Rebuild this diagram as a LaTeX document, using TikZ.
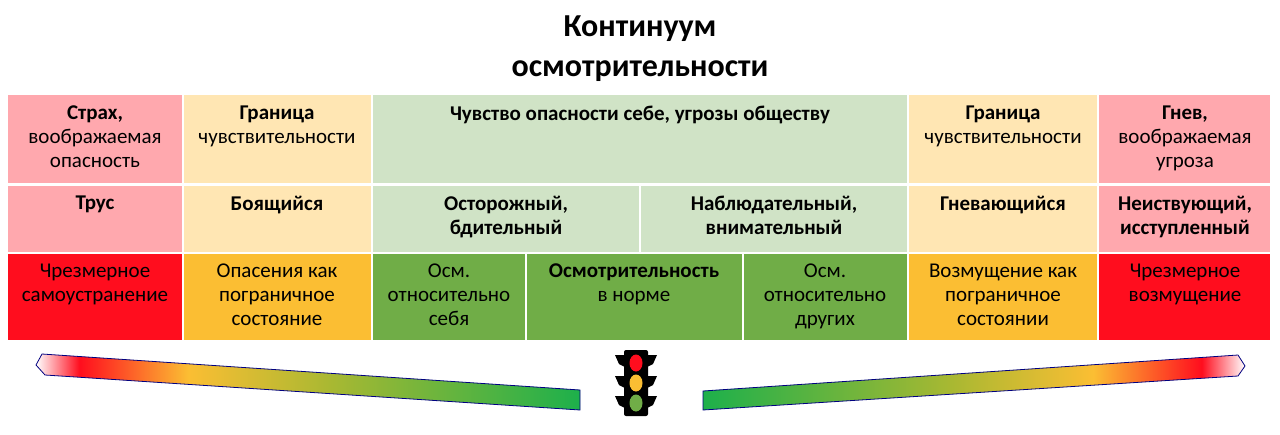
\documentclass[tikz,border=0pt]{standalone}
\usepackage{fontspec}
\setmainfont{Carlito}
\definecolor{pk}{HTML}{FFA8AE}
\definecolor{ly}{HTML}{FFE6B3}
\definecolor{lg}{HTML}{D0E3C6}
\definecolor{rd}{HTML}{FF0D1E}
\definecolor{og}{HTML}{FBBE33}
\definecolor{gn}{HTML}{70AD47}
\definecolor{bg}{HTML}{1DB04B}
\definecolor{ol}{HTML}{A9B832}
\pgfdeclarehorizontalshading{barL}{100bp}{color(0bp)=(white);color(25bp)=(white);color(29bp)=(rd);color(39bp)=(og);color(52bp)=(ol);color(75bp)=(bg);color(100bp)=(bg)}
\pgfdeclarehorizontalshading{barR}{100bp}{color(0bp)=(bg);color(25bp)=(bg);color(48bp)=(ol);color(61bp)=(og);color(71bp)=(rd);color(75bp)=(white);color(100bp)=(white)}
\begin{document}
\begin{tikzpicture}[x=1pt,y=-1pt,
 txt/.style={anchor=north,align=center,font=\fontsize{21}{24}\selectfont,inner sep=0pt}]
\useasboundingbox (0,0) rectangle (1280,434);
\node[font=\bfseries\fontsize{32}{40}\selectfont,align=center,anchor=north,inner sep=0pt] (title) at (640,16) {Континуум\\осмотрительности};
% row 1
\fill[pk] (8,95) rectangle (182,183);
\fill[ly] (184,95) rectangle (371,183);
\fill[lg] (373,95) rectangle (907,183);
\fill[ly] (909,95) rectangle (1097,183);
\fill[pk] (1099,95) rectangle (1270,183);
% row 2
\fill[pk] (8,186) rectangle (182,252);
\fill[ly] (184,186) rectangle (371,252);
\fill[lg] (373,186) rectangle (639,252);
\fill[lg] (641,186) rectangle (907,252);
\fill[ly] (909,186) rectangle (1097,252);
\fill[pk] (1099,186) rectangle (1270,252);
% row 3
\fill[rd] (8,254) rectangle (182,340);
\fill[og] (184,254) rectangle (371,340);
\fill[gn] (373,254) rectangle (525,340);
\fill[gn] (527,254) rectangle (742,340);
\fill[gn] (744,254) rectangle (907,340);
\fill[og] (909,254) rectangle (1097,340);
\fill[rd] (1099,254) rectangle (1270,340);
% texts row1
\node[txt] (a1) at (95,106) {\textbf{Страх,}\\воображаемая\\опасность};
\node[txt] (b1) at (277,106) {\textbf{Граница}\\чувствительности};
\node[txt] (c1) at (640,106) {\textbf{Чувство опасности себе, угрозы обществу}};
\node[txt] (d1) at (1003,106) {\textbf{Граница}\\чувствительности};
\node[txt] (e1) at (1185,106) {\textbf{Гнев,}\\воображаемая\\угроза};
% row2
\node[txt] (a2) at (95,196) {\textbf{Трус}};
\node[txt] (b2) at (277,196) {\textbf{Боящийся}};
\node[txt] (c2) at (506,196) {\textbf{Осторожный,}\\\textbf{бдительный}};
\node[txt] (d2) at (774,196) {\textbf{Наблюдательный,}\\\textbf{внимательный}};
\node[txt] (e2) at (1003,196) {\textbf{Гневающийся}};
\node[txt] (f2) at (1185,196) {\textbf{Неиствующий,}\\\textbf{исступленный}};
% row3
\node[txt] (a3) at (95,264) {Чрезмерное\\самоустранение};
\node[txt] (b3) at (277,264) {Опасения как\\пограничное\\состояние};
\node[txt] (c3) at (449,264) {Осм.\\относительно\\себя};
\node[txt] (d3) at (634,264) {\textbf{Осмотрительность}\\в норме};
\node[txt] (e3) at (825,264) {Осм.\\относительно\\других};
\node[txt] (f3) at (1003,264) {Возмущение как\\пограничное\\состоянии};
\node[txt] (g3) at (1185,264) {Чрезмерное\\возмущение};
% bars
\path[shading=barL,draw=blue!50!black,line width=0.8pt] (42,354) -- (36,365) -- (45,375) -- (580,410) -- (580,390) -- cycle;
\path[shading=barR,draw=blue!50!black,line width=0.8pt] (703,391) -- (703,410) -- (1238,376) -- (1245,366) -- (1238,355) -- cycle;
% traffic light
\foreach \yy in {355,376,396}{
 \fill[black] (615,\yy) -- (627,\yy) -- (627,\yy+13) -- (619,\yy+9) -- cycle;
 \fill[black] (657,\yy) -- (645,\yy) -- (645,\yy+13) -- (653,\yy+9) -- cycle;}
\fill[black,rounded corners=2pt] (624,350) rectangle (648,416);
\fill[rd] (636,363) ellipse (6.5 and 8.5);
\fill[og] (636,383) ellipse (6.5 and 8.5);
\fill[gn] (636,403) ellipse (6.5 and 8.5);
\end{tikzpicture}
\end{document}
